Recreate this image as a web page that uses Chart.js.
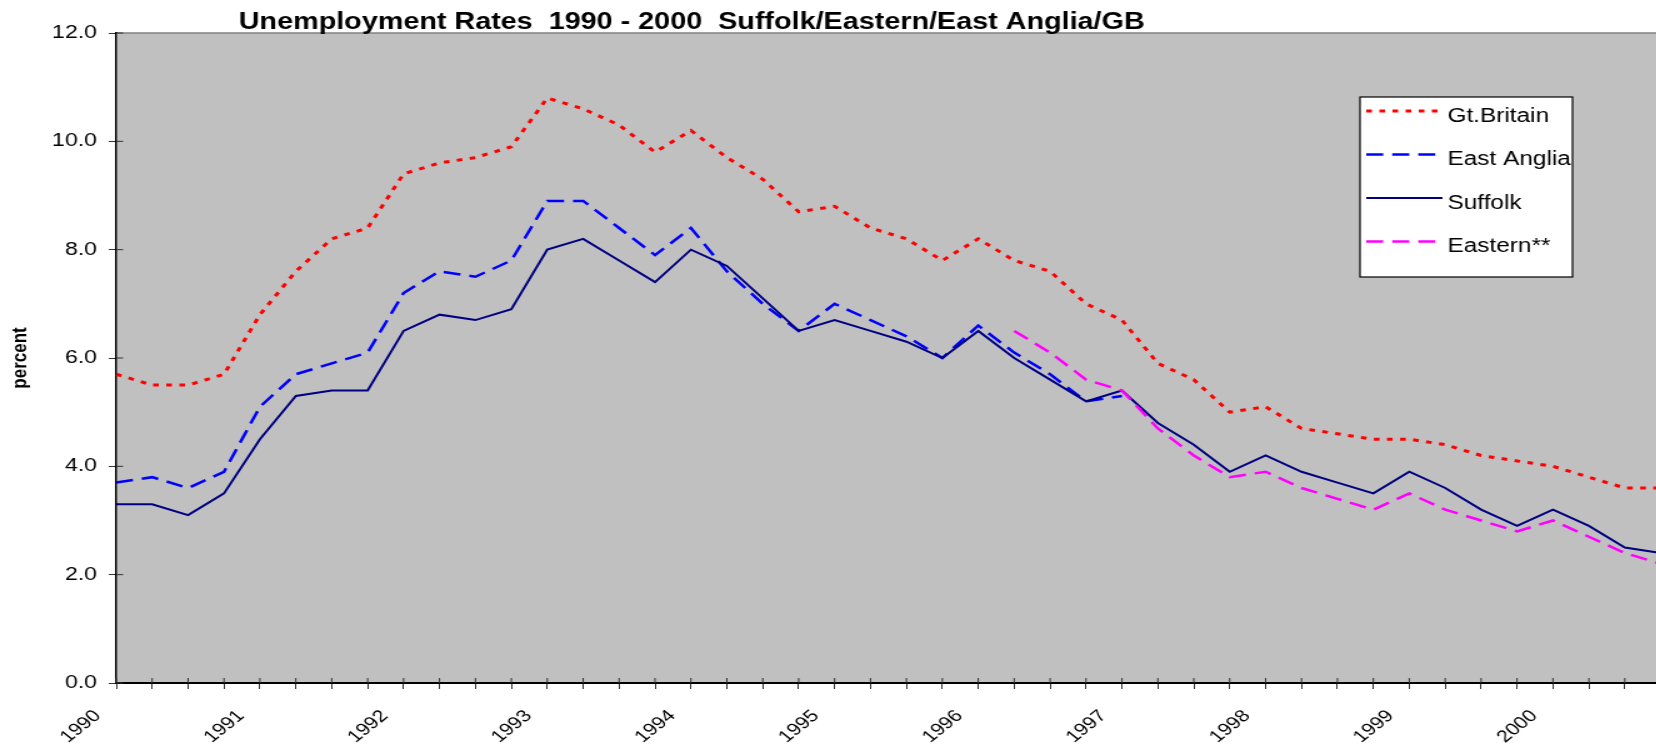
<!DOCTYPE html>
<html>
<head>
<meta charset="utf-8">
<title>Unemployment Rates 1990 - 2000</title>
<script src="https://cdn.jsdelivr.net/npm/chart.js@4.4.1/dist/chart.umd.min.js"></script>
<style>
	html, body { margin: 0; padding: 0; background: #fff; }
	.frame { position: relative; width: 1656px; height: 749px; overflow: hidden; }
</style>
</head>
<body>
<!-- the original picture is stretched sideways, so the canvas is drawn at 1360 and shown at 1700 -->
<div class="frame"><canvas id="unempChart" width="1360" height="749" style="display:block;width:1700px;height:749px"></canvas></div>
<script>
// ===== DATA (quarterly, percent) =====
const quarters = [
	'1990', '', '', '', '1991', '', '', '', '1992', '', '', '',
	'1993', '', '', '', '1994', '', '', '', '1995', '', '', '',
	'1996', '', '', '', '1997', '', '', '', '1998', '', '', '',
	'1999', '', '', '', '2000', '', '', ''
];

const gtBritain = [
	5.7, 5.5, 5.5, 5.7, 6.8, 7.6, 8.2, 8.4, 9.4, 9.6, 9.7, 9.9,
	10.8, 10.6, 10.3, 9.8, 10.2, 9.7, 9.3, 8.7, 8.8, 8.4, 8.2, 7.8,
	8.2, 7.8, 7.6, 7.0, 6.7, 5.9, 5.6, 5.0, 5.1, 4.7, 4.6, 4.5,
	4.5, 4.4, 4.2, 4.1, 4.0, 3.8, 3.6, 3.6
];

const eastAnglia = [
	3.7, 3.8, 3.6, 3.9, 5.1, 5.7, 5.9, 6.1, 7.2, 7.6, 7.5, 7.8,
	8.9, 8.9, 8.4, 7.9, 8.4, 7.6, 7.0, 6.5, 7.0, 6.7, 6.4, 6.0,
	6.6, 6.1, 5.7, 5.2, 5.3, null, null, null, null, null, null, null,
	null, null, null, null, null, null, null, null
];

const suffolk = [
	3.3, 3.3, 3.1, 3.5, 4.5, 5.3, 5.4, 5.4, 6.5, 6.8, 6.7, 6.9,
	8.0, 8.2, 7.8, 7.4, 8.0, 7.7, 7.1, 6.5, 6.7, 6.5, 6.3, 6.0,
	6.5, 6.0, 5.6, 5.2, 5.4, 4.8, 4.4, 3.9, 4.2, 3.9, 3.7, 3.5,
	3.9, 3.6, 3.2, 2.9, 3.2, 2.9, 2.5, 2.4
];

const eastern = [
	null, null, null, null, null, null, null, null, null, null, null, null,
	null, null, null, null, null, null, null, null, null, null, null, null,
	null, 6.5, 6.1, 5.6, 5.4, 4.7, 4.2, 3.8, 3.9, 3.6, 3.4, 3.2,
	3.5, 3.2, 3.0, 2.8, 3.0, 2.7, 2.4, 2.2
];

const chartTitle = 'Unemployment Rates  1990 - 2000  Suffolk/Eastern/East Anglia/GB';
const yAxisTitle = 'percent';

Chart.defaults.font.family = '"Liberation Sans", Arial, sans-serif';
Chart.defaults.color = '#000';

// ===== PLUGINS =====
const plotArea = {
	id: 'plotArea',
	beforeDraw(chart) {
		const { ctx, chartArea: a } = chart;
		ctx.save();
		ctx.fillStyle = '#c0c0c0';
		ctx.fillRect(a.left, a.top, a.right - a.left, a.bottom - a.top);
		ctx.strokeStyle = '#808080';
		ctx.lineWidth = 1.5;
		ctx.beginPath();
		ctx.moveTo(a.left, a.top);
		ctx.lineTo(a.right, a.top);
		ctx.stroke();
		ctx.restore();
	},
	// tick marks also poke a little into the plot
	beforeDatasetsDraw(chart) {
		const { ctx, chartArea: a, scales } = chart;
		ctx.save();
		ctx.strokeStyle = '#333';
		ctx.lineWidth = 1;
		ctx.beginPath();
		scales.y.ticks.forEach(t => {
			const y = scales.y.getPixelForValue(t.value);
			ctx.moveTo(a.left, y);
			ctx.lineTo(a.left + 5.5, y);
		});
		scales.x.ticks.forEach((t, i) => {
			const x = scales.x.getPixelForTick(i);
			ctx.moveTo(x, a.bottom);
			ctx.lineTo(x, a.bottom - 5);
		});
		ctx.stroke();
		ctx.restore();
	}
};

const titleText = {
	id: 'titleText',
	afterDraw(chart) {
		const ctx = chart.ctx;
		ctx.save();
		ctx.font = 'bold 23px "Liberation Sans", Arial, sans-serif';
		ctx.fillStyle = '#000';
		ctx.textAlign = 'left';
		ctx.textBaseline = 'alphabetic';
		ctx.fillText(chartTitle, 191, 29);
		ctx.restore();
	}
};

const boxLegend = {
	id: 'boxLegend',
	afterDraw(chart) {
		const ctx = chart.ctx;
		const box = { x: 1088, y: 97, w: 170, h: 180 };
		ctx.save();
		ctx.fillStyle = '#fff';
		ctx.fillRect(box.x, box.y, box.w, box.h);
		ctx.strokeStyle = '#000';
		ctx.lineWidth = 1.2;
		ctx.strokeRect(box.x, box.y, box.w, box.h);

		ctx.font = '19.5px "Liberation Sans", Arial, sans-serif';
		ctx.textAlign = 'left';
		ctx.textBaseline = 'alphabetic';
		chart.data.datasets.forEach((ds, i) => {
			const y = box.y + 14 + i * 43.5;
			ctx.strokeStyle = ds.borderColor;
			ctx.lineWidth = ds.borderWidth;
			ctx.setLineDash(ds.borderDash || []);
			ctx.beginPath();
			ctx.moveTo(box.x + 5, y);
			ctx.lineTo(box.x + 66, y);
			ctx.stroke();
			ctx.setLineDash([]);
			ctx.fillStyle = '#000';
			ctx.fillText(ds.label, box.x + 70, y + 10.5);
		});
		ctx.restore();
	}
};

// ===== CHART =====
const ctx = document.getElementById('unempChart').getContext('2d');

new Chart(ctx, {
	type: 'line',
	data: {
		labels: quarters,
		datasets: [
			{
				label: 'Gt.Britain',
				data: gtBritain,
				borderColor: '#ff0000',
				borderWidth: 3,
				borderDash: [4.5, 6],
				order: 4
			},
			{
				label: 'East Anglia',
				data: eastAnglia,
				borderColor: '#0000ff',
				borderWidth: 2.5,
				borderDash: [13.6, 7.2],
				order: 3
			},
			{
				label: 'Suffolk',
				data: suffolk,
				borderColor: '#000080',
				borderWidth: 2,
				order: 2
			},
			{
				label: 'Eastern**',
				data: eastern,
				borderColor: '#ff00ff',
				borderWidth: 2.5,
				borderDash: [13.6, 7.2],
				order: 1
			}
		]
	},
	options: {
		responsive: false,
		animation: false,
		devicePixelRatio: 1,
		layout: {
			padding: { left: 0, top: 33, right: 23, bottom: 0 }
		},
		elements: {
			point: { radius: 0, hoverRadius: 0 },
			line: { tension: 0, fill: false }
		},
		plugins: {
			legend: { display: false },
			tooltip: { enabled: false },
			title: { display: false }
		},
		scales: {
			x: {
				type: 'category',
				offset: false,
				afterFit: function(scale) { scale.height = 66; },
				grid: {
					display: true,
					drawOnChartArea: false,
					tickLength: 6,
					color: '#333'
				},
				border: { display: true, color: '#000', width: 2 },
				ticks: {
					autoSkip: false,
					maxRotation: 45,
					minRotation: 45,
					labelOffset: -15,
					padding: 17,
					color: '#000',
					font: { size: 17 }
				}
			},
			y: {
				min: 0,
				max: 12,
				afterFit: function(scale) { scale.width = 93; },
				grid: {
					drawOnChartArea: false,
					tickLength: 6,
					color: '#333'
				},
				border: { display: true, color: '#000', width: 1.5 },
				ticks: {
					stepSize: 2,
					padding: 9.4,
					color: '#000',
					font: { size: 18.5 },
					callback: function(value) {
						return value.toFixed(1);
					}
				},
				title: {
					display: true,
					text: yAxisTitle,
					color: '#000',
					font: { size: 17, weight: 'bold' },
					padding: { top: 6.5, bottom: 0 }
				}
			}
		}
	},
	plugins: [plotArea, titleText, boxLegend]
});
</script>
</body>
</html>
